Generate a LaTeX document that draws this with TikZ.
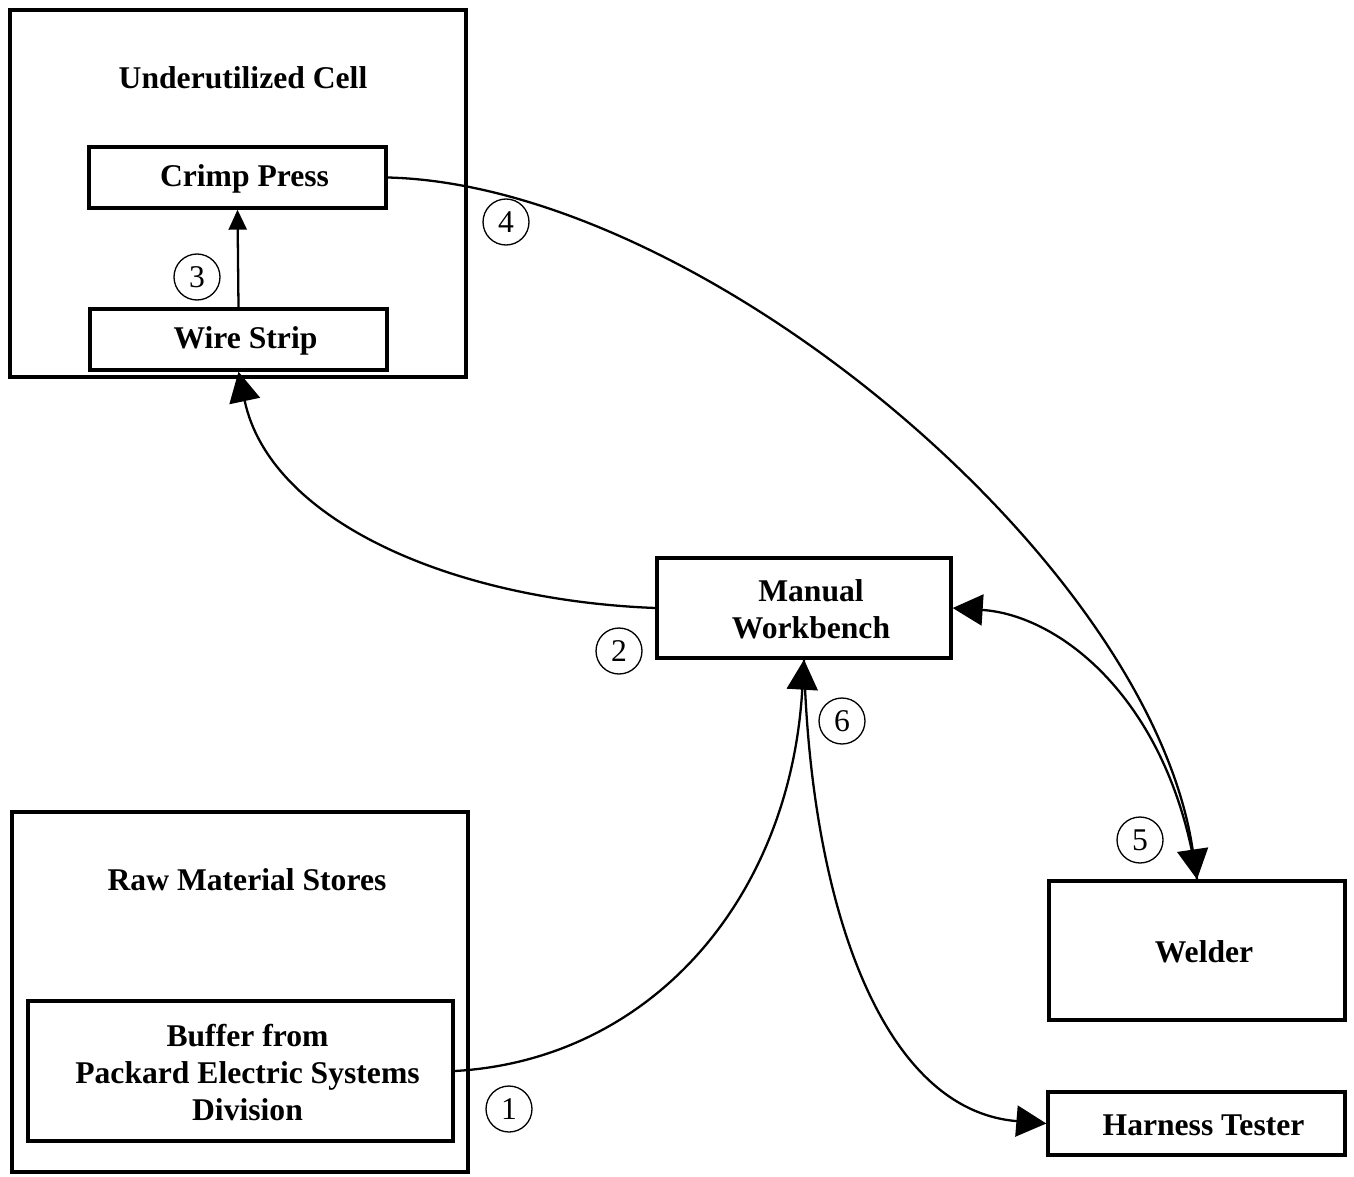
\documentclass[tikz,border=0pt]{standalone}
\usepackage{fontspec}
\setmainfont{Liberation Serif}
\usetikzlibrary{arrows.meta}
\begin{document}
\begin{tikzpicture}[x=0.02cm,y=-0.02cm,
  boxtext/.style={font=\fontsize{18}{21}\selectfont\bfseries,align=center,
    inner sep=0pt,xshift=0.14cm,yshift=-0.03cm},
  box/.style={draw,line width=1.9pt,rectangle,inner sep=0pt,
    label={[boxtext]center:#1}},
  area/.style={draw,line width=1.9pt,rectangle,inner sep=0pt},
  title/.style={font=\fontsize{18}{21}\selectfont\bfseries},
  flow/.style={line width=1.3pt,-{Triangle[length=0.6cm,width=0.62cm]}},
  num/.style={draw,circle,line width=0.75pt,minimum size=0.92cm,inner sep=0pt,
    font=\fontsize{18}{18}\selectfont}]
\useasboundingbox (0,0) rectangle (1354,1176);

% enclosing areas
\node[area,minimum width=456*0.02cm,minimum height=367*0.02cm] (cell) at (238,193.5) {};
\node[title] (celltitle) at (243,78) {Underutilized Cell};
\node[area,minimum width=456*0.02cm,minimum height=360*0.02cm] (stores) at (240,992) {};
\node[title] (storestitle) at (247,880) {Raw Material Stores};

% stations
\node[box={Crimp Press},minimum width=297*0.02cm,minimum height=61*0.02cm] (crimp) at (237.5,177.5) {};
\node[box={Wire Strip},minimum width=297*0.02cm,minimum height=61*0.02cm] (strip) at (238.5,339.5) {};
\node[box={Manual\\Workbench},minimum width=294*0.02cm,minimum height=100*0.02cm] (bench) at (804,608) {};
\node[box={Welder},minimum width=296*0.02cm,minimum height=139*0.02cm] (welder) at (1197,950.5) {};
\node[box={Harness Tester},minimum width=297*0.02cm,minimum height=63*0.02cm] (tester) at (1196.5,1123.5) {};
\node[box={Buffer from\\Packard Electric Systems\\Division},minimum width=425*0.02cm,minimum height=140*0.02cm] (buffer) at (240.5,1071) {};

% step numbers
\node[num] (n1) at (509,1109) {1};
\node[num] (n2) at (619,651) {2};
\node[num] (n3) at (197,277) {3};
\node[num] (n4) at (506,222) {4};
\node[num] (n5) at (1140,840) {5};
\node[num] (n6) at (842,721) {6};

% material flow
\draw[line width=1.3pt,-{Triangle[length=0.4cm,width=0.36cm]}] (strip.north) -- (crimp.south);
\draw[flow] (buffer.east) .. controls (650,1060) and (790,900) .. (bench.south);
\draw[flow] (bench.west) .. controls (450,600) and (270,520) .. (strip.south);
\draw[flow] (crimp.east) .. controls (700,185) and (1150,560) .. (welder.north);
\draw[flow] (welder.north) .. controls (1170,700) and (1060,615) .. (bench.east);
\draw[flow] (bench.south) .. controls (810,900) and (880,1110) .. (tester.west);
\end{tikzpicture}
\end{document}
